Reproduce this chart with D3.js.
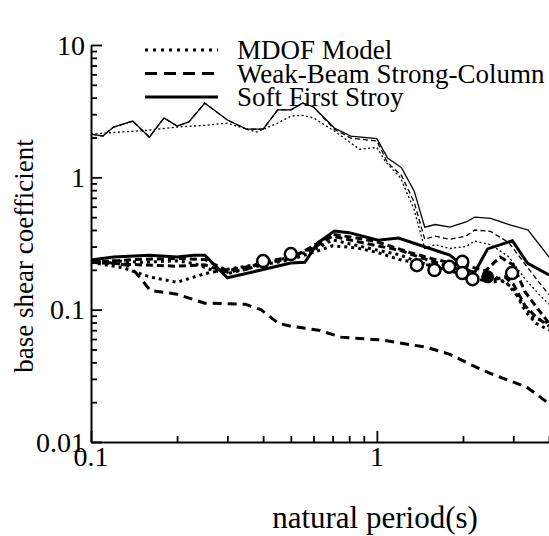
<!DOCTYPE html>
<meta charset="utf-8">
<script src="https://d3js.org/d3.v7.min.js"></script>
<style>
  body { margin: 0; background: #fff; }
  text { font-family: "Liberation Serif", "Times New Roman", serif; fill: #000; }
</style>
<div id="chart"></div>
<script>

// ---- data (period in s, base shear coefficient) ----
var elasticSoftT = [0.10,0.11,0.12,0.14,0.16,0.18,0.20,0.22,0.25,0.30,0.35,0.40,0.45,0.50,0.55,0.60,0.71,0.81,1.00,1.09,1.22,1.35,1.47,1.60,1.80,2.05,2.20,2.50,2.90,3.38,4.00];
var elasticSoftV = [2.12,2.05,2.40,2.66,2.01,2.81,2.44,2.62,3.64,2.71,2.31,2.31,3.23,3.23,3.64,3.40,2.36,2.05,1.96,1.40,1.18,0.79,0.42,0.44,0.42,0.46,0.50,0.49,0.44,0.40,0.25];

var elasticWbscT = [0.10,0.11,0.12,0.14,0.16,0.18,0.20,0.22,0.25,0.30,0.35,0.40,0.45,0.50,0.55,0.60,0.71,0.81,1.00,1.09,1.22,1.35,1.47,1.60,1.80,2.05,2.20,2.50,2.90,3.30,3.70,4.00];
var elasticWbscV = [2.12,2.05,2.40,2.66,2.01,2.81,2.44,2.62,3.64,2.71,2.31,2.31,3.23,3.23,3.64,3.40,2.31,1.98,1.88,1.29,1.03,0.65,0.34,0.36,0.34,0.36,0.40,0.39,0.32,0.22,0.16,0.13];

var elasticMdofT = [0.10,0.12,0.16,0.20,0.25,0.30,0.35,0.38,0.45,0.50,0.55,0.60,0.71,0.87,1.00,1.07,1.21,1.35,1.47,1.60,1.80,2.05,2.20,2.50,2.90,3.30,3.70,4.00];
var elasticMdofV = [2.12,2.18,2.27,2.40,2.47,2.57,2.31,2.20,2.57,2.90,2.94,2.81,2.24,1.63,1.68,1.32,0.99,0.57,0.29,0.31,0.29,0.30,0.33,0.31,0.25,0.17,0.13,0.11];

var softT = [0.10,0.12,0.16,0.20,0.23,0.25,0.30,0.50,0.56,0.62,0.71,0.80,1.01,1.19,1.80,2.10,2.20,2.44,2.98,3.36,4.00];
var softV = [0.237,0.250,0.258,0.250,0.258,0.258,0.174,0.225,0.228,0.318,0.393,0.382,0.335,0.348,0.258,0.197,0.192,0.288,0.332,0.225,0.183];

var wbscAT = [0.10,0.12,0.15,0.20,0.25,0.30,0.35,0.40,0.50,0.60,0.70,0.80,1.00,1.20,1.40,1.60,1.80,2.00,2.20,2.50,2.80,3.00,3.30,3.60,4.00];
var wbscAV = [0.228,0.223,0.218,0.213,0.218,0.192,0.202,0.228,0.250,0.293,0.360,0.337,0.304,0.282,0.250,0.228,0.213,0.197,0.177,0.166,0.177,0.156,0.107,0.088,0.075];

var wbscBT = [0.10,0.14,0.20,0.25,0.30,0.40,0.50,0.60,0.70,0.85,1.00,1.30,1.60,2.00,2.40,2.70,3.00,3.30,3.70,4.00];
var wbscBV = [0.228,0.239,0.244,0.239,0.197,0.223,0.244,0.304,0.371,0.348,0.326,0.271,0.239,0.218,0.197,0.250,0.218,0.136,0.098,0.079];

var mdofAT = [0.10,0.13,0.16,0.20,0.25,0.30,0.40,0.50,0.60,0.70,0.80,1.00,1.20,1.40,1.70,2.00,2.30,2.60,3.00,3.30,3.60,4.00];
var mdofAV = [0.228,0.207,0.177,0.161,0.187,0.202,0.223,0.250,0.282,0.337,0.315,0.282,0.260,0.228,0.207,0.187,0.166,0.177,0.146,0.098,0.079,0.070];

var mdofBT = [0.10,0.12,0.15,0.20,0.23,0.26,0.30,0.40,0.50,0.60,0.70,0.85,1.00,1.20,1.50,1.80,2.10,2.50,2.80,3.10,3.50,4.00];
var mdofBV = [0.228,0.234,0.228,0.234,0.223,0.202,0.187,0.218,0.239,0.271,0.304,0.293,0.271,0.239,0.218,0.197,0.177,0.161,0.166,0.127,0.088,0.079];

var lowerT = [0.10,0.134,0.143,0.154,0.161,0.20,0.25,0.346,0.393,0.452,0.50,0.625,0.75,1.04,1.49,1.80,2.10,2.49,2.92,3.34,3.94];
var lowerV = [0.237,0.217,0.192,0.158,0.140,0.131,0.112,0.110,0.100,0.079,0.075,0.070,0.062,0.059,0.052,0.046,0.039,0.033,0.029,0.026,0.020];

var obsT = [0.40,0.50,1.38,1.59,1.79,1.99,1.99,2.16,2.97];
var obsV = [0.233,0.263,0.217,0.199,0.211,0.230,0.189,0.170,0.189];
var markT = [2.44];
var markV = [0.177];

var legendLabels = ["MDOF Model", "Weak-Beam Strong-Column", "Soft First Stroy"];
var xTickLabels = [0.1, 1];
var yTickLabels = [0.01, 0.1, 1, 10];

// ---- layout ----
var W = 549, H = 536;
var plotLeft = 91, plotTop = 45, plotRight = 549, plotBottom = 442;

var svg = d3.select("#chart").append("svg")
  .attr("width", W).attr("height", H);

var x = d3.scaleLog().domain([0.1, 4]).range([plotLeft, plotRight]);
var y = d3.scaleLog().domain([0.01, 10]).range([plotBottom, plotTop]);

svg.append("clipPath").attr("id", "plotclip")
  .append("rect").attr("x", plotLeft).attr("y", plotTop - 5)
  .attr("width", plotRight - plotLeft).attr("height", plotBottom - plotTop + 5);

var line = d3.line()
  .x(function(d){ return x(d[0]); })
  .y(function(d){ return y(d[1]); });

function zipped(ts, vs){ return ts.map(function(t, i){ return [t, vs[i]]; }); }

var series = [
  {t: elasticMdofT, v: elasticMdofV, w: 1.3, dash: "2,2.5"},
  {t: elasticWbscT, v: elasticWbscV, w: 1.3, dash: "5,3"},
  {t: elasticSoftT, v: elasticSoftV, w: 1.3, dash: null},
  {t: lowerT, v: lowerV, w: 3, dash: "9,6"},
  {t: mdofAT, v: mdofAV, w: 3, dash: "3,4"},
  {t: mdofBT, v: mdofBV, w: 3, dash: "3,4"},
  {t: wbscAT, v: wbscAV, w: 3, dash: "7,4"},
  {t: wbscBT, v: wbscBV, w: 3, dash: "7,4"},
  {t: softT, v: softV, w: 3, dash: null}
];

var g = svg.append("g").attr("clip-path", "url(#plotclip)");
series.forEach(function(s){
  g.append("path")
    .datum(zipped(s.t, s.v))
    .attr("d", line)
    .attr("fill", "none")
    .attr("stroke", "#000")
    .attr("stroke-width", s.w)
    .attr("stroke-dasharray", s.dash);
});

// markers
svg.selectAll(".obs")
  .data(zipped(obsT, obsV))
  .enter().append("circle")
    .attr("cx", function(d){ return x(d[0]); })
    .attr("cy", function(d){ return y(d[1]); })
    .attr("r", 6)
    .attr("fill", "#fff")
    .attr("stroke", "#000")
    .attr("stroke-width", 2.5);

svg.selectAll(".mark")
  .data(zipped(markT, markV))
  .enter().append("circle")
    .attr("cx", function(d){ return x(d[0]); })
    .attr("cy", function(d){ return y(d[1]); })
    .attr("r", 6.5)
    .attr("fill", "#000");

// ---- axes ----
function logTicks(lo, hi){
  var out = [];
  for (var e = -2; e <= 1; e++){
    for (var m = 1; m <= 9; m++){
      var v = m * Math.pow(10, e);
      if (v >= lo * 0.999 && v <= hi * 1.001) out.push(+v.toPrecision(3));
    }
  }
  return out;
}

var xAxis = d3.axisBottom(x)
  .tickValues(logTicks(0.1, 4))
  .tickSizeInner(0).tickSizeOuter(0)
  .tickFormat("");
var yAxis = d3.axisLeft(y)
  .tickValues(logTicks(0.01, 10))
  .tickSizeInner(0).tickSizeOuter(0)
  .tickFormat("");

var gx = svg.append("g").attr("transform", "translate(0," + plotBottom + ")").call(xAxis);
var gy = svg.append("g").attr("transform", "translate(" + plotLeft + ",0)").call(yAxis);
[gx, gy].forEach(function(a){
  a.select(".domain").attr("stroke", "#000").attr("stroke-width", 2);
});

// inward ticks
gx.selectAll(".tick line")
  .attr("y2", function(d){ return xTickLabels.indexOf(d) >= 0 ? -11 : -6; })
  .attr("stroke", "#000").attr("stroke-width", 1.8);
gy.selectAll(".tick line")
  .attr("x2", function(d){ return yTickLabels.indexOf(d) >= 0 ? 11 : 6; })
  .attr("stroke", "#000").attr("stroke-width", 1.8);

// tick labels
svg.selectAll(".xlab")
  .data(xTickLabels)
  .enter().append("text")
    .attr("x", function(d){ return x(d); })
    .attr("y", plotBottom + 24)
    .attr("text-anchor", "middle")
    .style("font-size", "28px")
    .text(function(d){ return d; });

svg.selectAll(".ylab")
  .data(yTickLabels)
  .enter().append("text")
    .attr("x", plotLeft - 6)
    .attr("y", function(d){ return y(d) + 9.5; })
    .attr("text-anchor", "end")
    .style("font-size", "28px")
    .text(function(d){ return d; });

// axis titles
svg.append("text")
  .attr("x", 375)
  .attr("y", 528)
  .attr("text-anchor", "middle")
  .style("font-size", "31px")
  .text("natural period(s)");

svg.append("text")
  .attr("transform", "translate(33,256) rotate(-90)")
  .attr("text-anchor", "middle")
  .style("font-size", "27px")
  .text("base shear coefficient");

// ---- legend ----
var legendDash = ["3,5", "12,7", null];
var leg = svg.append("g");
legendLabels.forEach(function(lbl, i){
  var ly = 50 + i * 23.5;
  leg.append("line")
    .attr("x1", 145).attr("x2", 218)
    .attr("y1", ly).attr("y2", ly)
    .attr("stroke", "#000").attr("stroke-width", 3)
    .attr("stroke-dasharray", legendDash[i]);
  leg.append("text")
    .attr("x", 237).attr("y", ly + 9)
    .style("font-size", "27px")
    .text(lbl);
});

</script>
